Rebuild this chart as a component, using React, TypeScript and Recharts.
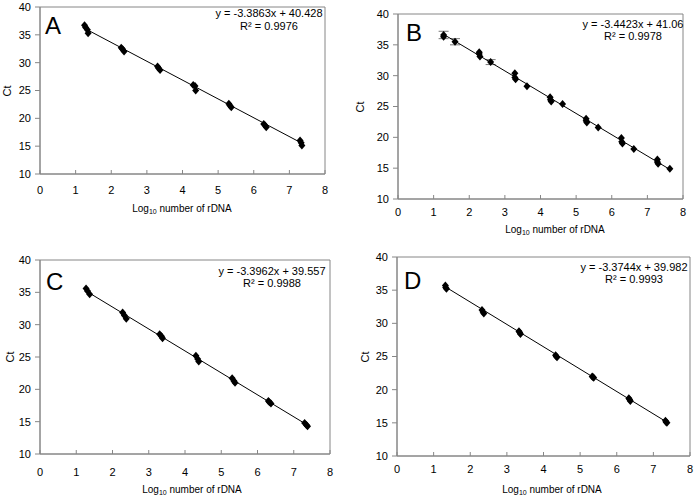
import {
  ErrorBar,
  ReferenceArea,
  Scatter,
  ScatterChart,
  XAxis,
  YAxis,
} from "recharts";

type Pt = { x: number; y: number; err?: number };

const xTicks = [0, 1, 2, 3, 4, 5, 6, 7, 8];
const yTicks = [10, 15, 20, 25, 30, 35, 40];

// Panel A replicates
const pointsA: Pt[] = [
  { x: 1.25, y: 36.7 }, { x: 1.28, y: 36.3 }, { x: 1.33, y: 35.9 }, { x: 1.35, y: 35.3 },
  { x: 2.28, y: 32.7 }, { x: 2.32, y: 32.4 }, { x: 2.36, y: 32.0 },
  { x: 3.3, y: 29.3 }, { x: 3.33, y: 29.0 }, { x: 3.37, y: 28.7 },
  { x: 4.3, y: 26.0 }, { x: 4.35, y: 25.8 }, { x: 4.37, y: 25.0 },
  { x: 5.3, y: 22.6 }, { x: 5.33, y: 22.3 }, { x: 5.37, y: 22.0 },
  { x: 6.28, y: 19.0 }, { x: 6.32, y: 18.7 }, { x: 6.35, y: 18.4 },
  { x: 7.3, y: 16.0 }, { x: 7.33, y: 15.6 }, { x: 7.35, y: 15.1 },
];
const trendA: Pt[] = [{ x: 1.3, y: 36.0 }, { x: 7.33, y: 15.6 }];

// Panel B (means with error bars)
const pointsB: Pt[] = [
  { x: 1.28, y: 36.6, err: 0.6 }, { x: 1.28, y: 36.3, err: 0 },
  { x: 1.6, y: 35.5, err: 0.5 },
  { x: 2.28, y: 33.8, err: 0 }, { x: 2.28, y: 33.5, err: 0 }, { x: 2.3, y: 33.1, err: 0 },
  { x: 2.6, y: 32.2, err: 0.4 },
  { x: 3.28, y: 30.4, err: 0 }, { x: 3.28, y: 29.7, err: 0 }, { x: 3.3, y: 29.4, err: 0 },
  { x: 3.62, y: 28.3, err: 0 },
  { x: 4.27, y: 26.5, err: 0 }, { x: 4.28, y: 26.1, err: 0 }, { x: 4.3, y: 25.8, err: 0 },
  { x: 4.62, y: 25.4, err: 0 },
  { x: 5.28, y: 23.0, err: 0 }, { x: 5.28, y: 22.7, err: 0 }, { x: 5.3, y: 22.4, err: 0 },
  { x: 5.62, y: 21.6, err: 0 },
  { x: 6.27, y: 19.9, err: 0 }, { x: 6.28, y: 19.3, err: 0 }, { x: 6.3, y: 19.0, err: 0 },
  { x: 6.62, y: 18.1, err: 0 },
  { x: 7.28, y: 16.4, err: 0 }, { x: 7.28, y: 16.0, err: 0 }, { x: 7.3, y: 15.7, err: 0 },
  { x: 7.63, y: 14.9, err: 0 },
];
const trendB: Pt[] = [{ x: 1.28, y: 36.7 }, { x: 7.63, y: 14.8 }];

// Panel C replicates
const pointsC: Pt[] = [
  { x: 1.27, y: 35.6 }, { x: 1.31, y: 35.2 }, { x: 1.37, y: 34.7 },
  { x: 2.28, y: 31.9 }, { x: 2.33, y: 31.4 }, { x: 2.38, y: 30.9 },
  { x: 3.3, y: 28.5 }, { x: 3.35, y: 28.2 }, { x: 3.38, y: 27.9 },
  { x: 4.3, y: 25.2 }, { x: 4.35, y: 24.7 }, { x: 4.38, y: 24.3 },
  { x: 5.3, y: 21.7 }, { x: 5.35, y: 21.3 }, { x: 5.38, y: 21.0 },
  { x: 6.3, y: 18.2 }, { x: 6.33, y: 18.0 }, { x: 6.37, y: 17.8 },
  { x: 7.3, y: 14.8 }, { x: 7.35, y: 14.5 }, { x: 7.38, y: 14.3 },
];
const trendC: Pt[] = [{ x: 1.3, y: 35.1 }, { x: 7.37, y: 14.5 }];

// Panel D replicates
const pointsD: Pt[] = [
  { x: 1.32, y: 35.7 }, { x: 1.33, y: 35.4 }, { x: 1.35, y: 35.2 },
  { x: 2.32, y: 32.0 }, { x: 2.35, y: 31.7 }, { x: 2.37, y: 31.5 },
  { x: 3.33, y: 28.8 }, { x: 3.35, y: 28.6 }, { x: 3.37, y: 28.4 },
  { x: 4.33, y: 25.2 }, { x: 4.35, y: 25.0 }, { x: 4.37, y: 24.9 },
  { x: 5.33, y: 22.0 }, { x: 5.35, y: 21.9 }, { x: 5.37, y: 21.8 },
  { x: 6.33, y: 18.7 }, { x: 6.35, y: 18.5 }, { x: 6.37, y: 18.3 },
  { x: 7.33, y: 15.3 }, { x: 7.35, y: 15.1 }, { x: 7.37, y: 15.0 },
];
const trendD: Pt[] = [{ x: 1.32, y: 35.5 }, { x: 7.37, y: 15.1 }];

const FONT = "'Liberation Sans', Arial, sans-serif";
const AXIS = "#868686";

// small Excel-style diamond marker at the point's scaled position
const Diamond = (props: any) => {
  const { cx, cy } = props;
  if (cx == null || cy == null) return <g />;
  return <path d={`M${cx},${cy - 4}L${cx + 3.5},${cy}L${cx},${cy + 4}L${cx - 3.5},${cy}Z`} fill="#000" />;
};

interface PanelProps {
  left: number;
  top: number;
  margin: { top: number; right: number; bottom: number; left: number };
  xGap: number;
  points: Pt[];
  trend: Pt[];
  errors?: boolean;
}

function Panel({ left, top, margin, xGap, points, trend, errors }: PanelProps) {
  return (
    <div style={{ position: "absolute", left, top }}>
      <ScatterChart width={348} height={250} margin={margin}>
        <ReferenceArea x1={0} x2={8} y1={10} y2={40} fill="none" stroke={AXIS} strokeWidth={1} />
        <XAxis
          type="number"
          dataKey="x"
          domain={[0, 8]}
          ticks={xTicks}
          height={30}
          stroke={AXIS}
          tickSize={-4}
          tickMargin={xGap}
          tick={{ fontSize: 11, fill: "#000", fontFamily: FONT }}
          allowDataOverflow
        />
        <YAxis
          type="number"
          dataKey="y"
          domain={[10, 40]}
          ticks={yTicks}
          width={30}
          stroke={AXIS}
          tickSize={5}
          tickMargin={4}
          tick={{ fontSize: 11, fill: "#000", fontFamily: FONT }}
          allowDataOverflow
        />
        <Scatter
          data={trend}
          line={{ stroke: "#000", strokeWidth: 1 }}
          shape={() => <g />}
          isAnimationActive={false}
        />
        <Scatter data={points} shape={Diamond} fill="#000" isAnimationActive={false}>
          {errors && <ErrorBar dataKey="err" direction="y" width={5} stroke="#777" strokeWidth={1} />}
        </Scatter>
      </ScatterChart>
    </div>
  );
}

function Labels({
  letter, lx, ly, eq, r2, ex, ey1, ey2, cx, cy, tx, ty,
}: {
  letter: string; lx: number; ly: number; eq: string; r2: string; ex: number; ey1: number; ey2: number;
  cx: number; cy: number; tx: number; ty: number;
}) {
  return (
    <g fontFamily={FONT} fill="#000">
      <text x={lx} y={ly} fontSize={24}>{letter}</text>
      <text x={ex} y={ey1} fontSize={11} textAnchor="middle">{eq}</text>
      <text x={ex} y={ey2} fontSize={11} textAnchor="middle">{r2}</text>
      <text x={cx} y={cy} fontSize={11} textAnchor="middle" transform={`rotate(-90 ${cx} ${cy})`}>Ct</text>
      <text x={tx} y={ty} fontSize={10} textAnchor="middle">
        Log<tspan fontSize={7} dy={2}>10</tspan><tspan dy={-2}> number of rDNA</tspan>
      </text>
    </g>
  );
}

export default function App() {
  return (
    <div style={{ position: "absolute", left: 0, top: 0, width: 697, height: 499, background: "#fff", overflow: "hidden" }}>
      <Panel left={0} top={0} margin={{ top: 7, right: 23, bottom: 46, left: 10 }} xGap={16} points={pointsA} trend={trendA} />
      <Panel left={350} top={0} margin={{ top: 14, right: 15, bottom: 21, left: 18 }} xGap={13} points={pointsB} trend={trendB} errors />
      <Panel left={0} top={250} margin={{ top: 10, right: 18, bottom: 16, left: 10 }} xGap={18} points={pointsC} trend={trendC} />
      <Panel left={350} top={250} margin={{ top: 7, right: 8, bottom: 14, left: 17 }} xGap={13} points={pointsD} trend={trendD} />
      <svg width={697} height={499} style={{ position: "absolute", left: 0, top: 0, pointerEvents: "none" }}>
        <Labels letter="A" lx={45} ly={34} eq="y = -3.3863x + 40.428" r2="R² = 0.9976" ex={269} ey1={17} ey2={30} cx={11} cy={91} tx={182} ty={212} />
        <Labels letter="B" lx={406} ly={41} eq="y = -3.4423x + 41.06" r2="R² = 0.9978" ex={633} ey1={28} ey2={40} cx={364} cy={107} tx={555} ty={233} />
        <Labels letter="C" lx={46} ly={290} eq="y = -3.3962x + 39.557" r2="R² = 0.9988" ex={272} ey1={275} ey2={287} cx={14} cy={357} tx={192} ty={493} />
        <Labels letter="D" lx={404} ly={289} eq="y = -3.3744x + 39.982" r2="R² = 0.9993" ex={634} ey1={271} ey2={283} cx={369} cy={357} tx={552} ty={493} />
      </svg>
    </div>
  );
}
